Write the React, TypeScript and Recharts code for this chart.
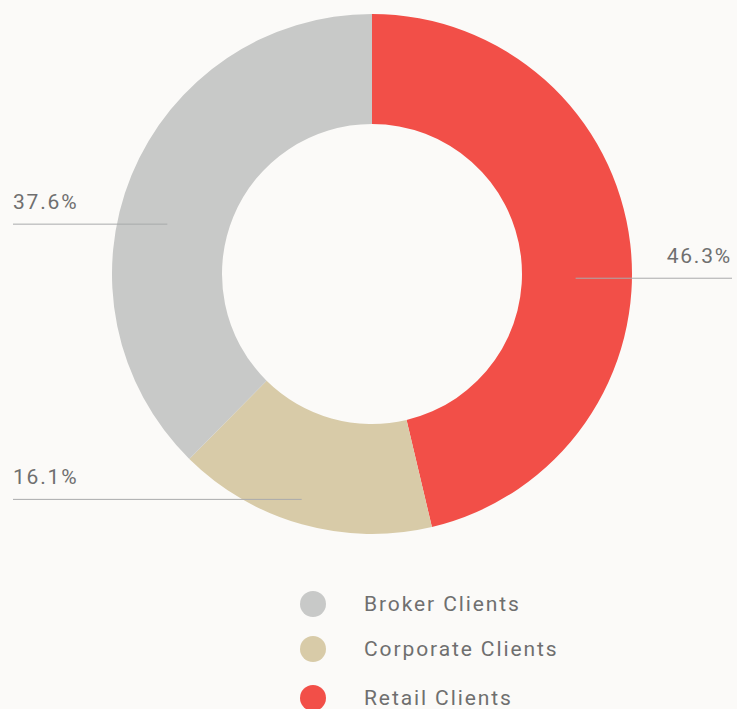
import { PieChart, Pie, Cell, Legend } from 'recharts';

const categories = ['Retail Clients', 'Corporate Clients', 'Broker Clients'];
const shares = [46.3, 16.1, 37.6];
const colors = ['#F24F48', '#D8CBA8', '#C8C9C8'];
const legendOrder = ['Broker Clients', 'Corporate Clients', 'Retail Clients'];

const data = categories.map((name, i) => ({ name, value: shares[i], color: colors[i] }));

const W = 737;
const H = 709;
const TEXT = '#6F6F6F';
const RULE = '#A9AAAB';
const FONT = 'Roboto, "DejaVu Sans", sans-serif';

const RAD = Math.PI / 180;

function SliceLabel(props: any) {
  const { cx, cy, midAngle, innerRadius, outerRadius, value } = props;
  const r = (innerRadius + outerRadius) / 2;
  const x = cx + r * Math.cos(-midAngle * RAD);
  const y = cy + r * Math.sin(-midAngle * RAD) + 28;
  const right = x > cx;
  const x1 = right ? x : 13;
  const x2 = right ? W - 5 : x - 15;
  return (
    <g>
      <line x1={x1} y1={y} x2={x2} y2={y} stroke={RULE} strokeWidth={1} />
      <text
        x={right ? x2 : x1}
        y={y - 15}
        textAnchor={right ? 'end' : 'start'}
        fill={TEXT}
        fontSize={21}
        fontFamily={FONT}
        letterSpacing={1.8}
      >
        {value.toFixed(1)}%
      </text>
    </g>
  );
}

function LegendList() {
  return (
    <div style={{ fontFamily: FONT }}>
      {legendOrder.map((name, i) => {
        const d = data.find((x) => x.name === name)!;
        return (
          <div
            key={name}
            style={{ display: 'flex', alignItems: 'center', height: 26, marginBottom: i === 1 ? 23 : 19 }}
          >
            <span
              style={{
                display: 'inline-block',
                width: 26,
                height: 26,
                borderRadius: 13,
                background: d.color,
                marginLeft: 300,
                marginRight: 38,
              }}
            />
            <span style={{ color: TEXT, fontSize: 21, letterSpacing: 1.9 }}>{name}</span>
          </div>
        );
      })}
    </div>
  );
}

export default function App() {
  return (
    <div style={{ position: 'fixed', left: 0, top: 0, width: W, height: H, background: '#FBFAF8', overflow: 'hidden' }}>
      <PieChart width={W} height={H} margin={{ top: 0, right: 0, bottom: 0, left: 0 }}>
        <Pie
          data={data}
          dataKey="value"
          nameKey="name"
          cx={372}
          cy={274}
          innerRadius={150}
          outerRadius={260}
          startAngle={90}
          endAngle={-270}
          stroke="none"
          label={SliceLabel}
          labelLine={false}
          isAnimationActive={false}
        >
          {data.map((d) => (
            <Cell key={d.name} fill={d.color} />
          ))}
        </Pie>
        <Legend
          content={<LegendList />}
          wrapperStyle={{ position: 'absolute', top: 591, left: 0, width: W }}
        />
      </PieChart>
    </div>
  );
}
